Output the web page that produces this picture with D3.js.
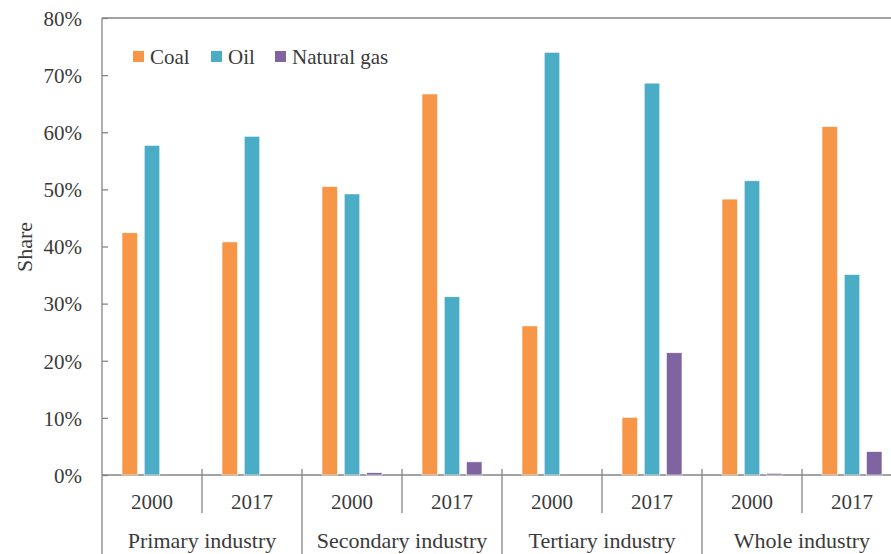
<!DOCTYPE html>
<html>
<head>
<meta charset="utf-8">
<script src="https://cdn.jsdelivr.net/npm/d3@7"></script>
<style>
  body { margin: 0; background: #fff; }
  svg text { font-family: "Liberation Serif", "Times New Roman", serif; fill: #3a3a3a; }
</style>
</head>
<body>
<svg id="chart" width="891" height="554"></svg>
<script>
// data
const industries = ["Primary industry", "Secondary industry", "Tertiary industry", "Whole industry"];
const years = ["2000", "2017"];
const fuels = ["Coal", "Oil", "Natural gas"];
const coal = [42.4, 40.8, 50.5, 66.7, 26.1, 10.1, 48.3, 61.0];
const oil = [57.7, 59.3, 49.2, 31.2, 74.0, 68.6, 51.5, 35.1];
const gas = [0, 0, 0.4, 2.3, 0, 21.4, 0.3, 4.1];
const yTicks = [0, 10, 20, 30, 40, 50, 60, 70, 80];

const fuelColors = { "Coal": "#f79646", "Oil": "#4bacc6", "Natural gas": "#8064a2" };
const seriesValues = { "Coal": coal, "Oil": oil, "Natural gas": gas };

const svg = d3.select("svg#chart");
const plot = { left: 102, right: 902, top: 18, bottom: 475 };
const lineColor = "#858585";

// subgroup keys: industry|year
const groups = [];
industries.forEach((ind) => years.forEach((yr) => groups.push(ind + "|" + yr)));

const x = d3.scaleBand().domain(groups).range([plot.left, plot.right]);
const xInner = d3.scaleBand().domain(fuels).range([20, 80]).paddingInner(0.3).paddingOuter(0);
const y = d3.scaleLinear().domain([0, 80]).range([plot.bottom, plot.top]);

// top border line
svg.append("line")
    .attr("x1", plot.left).attr("x2", plot.right)
    .attr("y1", plot.top).attr("y2", plot.top)
    .attr("stroke", lineColor).attr("stroke-width", 1.3);

// y axis, ticks pointing inward
let leftAxis = d3.axisRight(y)
    .tickValues(yTicks)
    .tickSize(6)
    .tickFormat((d) => d + "%");
let yAxis = svg.append("g")
    .attr("transform", `translate(${plot.left},0)`)
    .call(leftAxis);
yAxis.select(".domain").remove();
yAxis.selectAll("line").attr("stroke", lineColor).attr("stroke-width", 1.3);
yAxis.selectAll("text")
    .attr("x", -20)
    .attr("dy", "0.35em")
    .attr("text-anchor", "end")
    .style("font-size", "21px");

// y axis line, running down through the category labels
svg.append("line")
    .attr("x1", plot.left).attr("x2", plot.left)
    .attr("y1", plot.top).attr("y2", 554)
    .attr("stroke", lineColor).attr("stroke-width", 1.3);

// x axis line
svg.append("line")
    .attr("x1", plot.left).attr("x2", plot.right)
    .attr("y1", plot.bottom).attr("y2", plot.bottom)
    .attr("stroke", lineColor).attr("stroke-width", 1.3);

// separators
groups.forEach((g, i) => {
    if (i === 0) return;
    let isCategory = i % 2 === 0;
    svg.append("line")
        .attr("x1", x(g)).attr("x2", x(g))
        .attr("y1", plot.bottom - 6)
        .attr("y2", isCategory ? 554 : 513)
        .attr("stroke", lineColor).attr("stroke-width", 1.3);
});

// year labels
svg.selectAll("text.year")
    .data(groups)
    .join("text")
    .attr("class", "year")
    .attr("x", (g) => x(g) + x.bandwidth() / 2)
    .attr("y", 509)
    .attr("text-anchor", "middle")
    .style("font-size", "21px")
    .text((g) => g.split("|")[1]);

// industry labels
svg.selectAll("text.industry")
    .data(industries)
    .join("text")
    .attr("class", "industry")
    .attr("x", (ind) => x(ind + "|" + years[0]) + x.bandwidth())
    .attr("y", 548)
    .attr("text-anchor", "middle")
    .style("font-size", "22px")
    .text((ind) => ind);

// bars
fuels.forEach((f) => {
    svg.selectAll("rect.bar-" + f.replace(" ", ""))
        .data(seriesValues[f])
        .join("rect")
        .attr("x", (v, i) => x(groups[i]) + xInner(f))
        .attr("y", (v) => y(v))
        .attr("width", xInner.bandwidth())
        .attr("height", (v) => y(0) - y(v))
        .attr("fill", fuelColors[f])
        .attr("stroke", (v) => v > 0 ? "#fff" : "none")
        .attr("stroke-width", 0.6);
});

// y title
svg.append("text")
    .attr("transform", "translate(32,247) rotate(-90)")
    .attr("text-anchor", "middle")
    .style("font-size", "22px")
    .text("Share");

// legend
const legendX = [133, 211, 275];
const legend = svg.append("g").attr("transform", "translate(0,57)");
fuels.forEach((f, i) => {
    legend.append("rect")
        .attr("x", legendX[i]).attr("y", -6)
        .attr("width", 11).attr("height", 11)
        .attr("fill", fuelColors[f]);
    legend.append("text")
        .attr("x", legendX[i] + 17)
        .attr("y", 0)
        .attr("dy", "0.35em")
        .style("font-size", "21px")
        .text(f);
});
</script>
</body>
</html>
